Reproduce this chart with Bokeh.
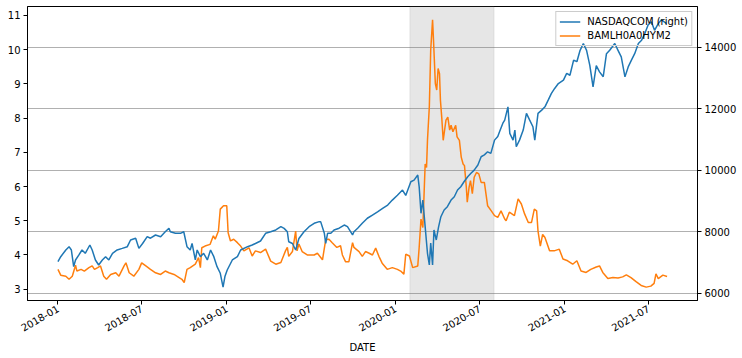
import math
import pandas as pd
from bokeh.plotting import figure
from bokeh.models import (Range1d, LinearAxis, FixedTicker, Grid, BoxAnnotation,
                          Legend, LegendItem, DatetimeTickFormatter)
from bokeh.embed import file_html
from bokeh.resources import INLINE

FONT = "DejaVu Sans"

# ---- data ----
hy_dates = [
    "2018-01-01", "2018-01-07", "2018-01-18", "2018-01-25", "2018-02-01", "2018-02-08", "2018-02-11",
    "2018-02-20", "2018-02-27", "2018-03-09", "2018-03-16", "2018-03-21", "2018-03-28", "2018-04-03",
    "2018-04-10", "2018-04-16", "2018-04-25", "2018-05-06", "2018-05-13", "2018-05-24", "2018-05-28",
    "2018-06-04", "2018-06-14", "2018-06-25", "2018-07-01", "2018-07-10", "2018-07-20", "2018-07-31",
    "2018-08-11", "2018-08-21", "2018-08-29", "2018-09-09", "2018-09-20", "2018-09-26", "2018-10-01",
    "2018-10-07", "2018-10-14", "2018-10-25", "2018-11-01", "2018-11-05", "2018-11-08", "2018-11-15",
    "2018-11-26", "2018-12-03", "2018-12-07", "2018-12-14", "2018-12-18", "2018-12-25", "2019-01-01",
    "2019-01-04", "2019-01-09", "2019-01-16", "2019-01-24", "2019-01-31", "2019-02-07", "2019-02-18",
    "2019-02-25", "2019-03-04", "2019-03-15", "2019-03-26", "2019-04-06", "2019-04-17", "2019-04-28",
    "2019-05-08", "2019-05-12", "2019-05-15", "2019-05-23", "2019-05-30", "2019-06-02", "2019-06-06",
    "2019-06-13", "2019-06-24", "2019-07-09", "2019-07-16", "2019-07-27", "2019-08-03", "2019-08-10",
    "2019-08-17", "2019-08-27", "2019-09-04", "2019-09-08", "2019-09-15", "2019-09-22", "2019-09-30",
    "2019-10-03", "2019-10-14", "2019-10-21", "2019-10-28", "2019-11-05", "2019-11-12", "2019-11-19",
    "2019-11-26", "2019-12-03", "2019-12-14", "2019-12-25", "2020-01-05", "2020-01-12", "2020-01-19",
    "2020-01-23", "2020-01-31", "2020-02-07", "2020-02-18", "2020-02-21", "2020-02-25", "2020-02-29",
    "2020-03-05", "2020-03-08", "2020-03-10", "2020-03-14", "2020-03-17", "2020-03-21", "2020-03-23",
    "2020-03-27", "2020-03-30", "2020-04-02", "2020-04-05", "2020-04-07", "2020-04-10", "2020-04-13",
    "2020-04-16", "2020-04-19", "2020-04-23", "2020-04-27", "2020-04-30", "2020-05-04", "2020-05-10",
    "2020-05-13", "2020-05-18", "2020-05-22", "2020-05-26", "2020-05-29", "2020-06-02", "2020-06-04",
    "2020-06-08", "2020-06-11", "2020-06-15", "2020-06-19", "2020-06-24", "2020-06-29", "2020-07-04",
    "2020-07-11", "2020-07-18", "2020-07-26", "2020-08-02", "2020-08-09", "2020-08-16", "2020-08-24",
    "2020-08-27", "2020-09-03", "2020-09-14", "2020-09-22", "2020-09-29", "2020-10-06", "2020-10-14",
    "2020-10-21", "2020-10-27", "2020-11-01", "2020-11-04", "2020-11-09", "2020-11-14", "2020-11-19",
    "2020-11-29", "2020-12-09", "2020-12-20", "2020-12-28", "2021-01-07", "2021-01-18", "2021-01-27",
    "2021-02-05", "2021-02-16", "2021-02-26", "2021-03-10", "2021-03-17", "2021-03-24", "2021-04-04",
    "2021-04-15", "2021-04-26", "2021-05-06", "2021-05-14", "2021-05-24", "2021-06-04", "2021-06-15",
    "2021-06-26", "2021-07-06", "2021-07-13", "2021-07-17", "2021-07-22", "2021-08-01", "2021-08-10",
]
hy_values = [
    3.58, 3.41, 3.38, 3.29, 3.38, 3.70, 3.53,
    3.58, 3.53, 3.63, 3.68, 3.58, 3.63, 3.68,
    3.38, 3.29, 3.43, 3.48, 3.38, 3.68, 3.77,
    3.48, 3.38, 3.58, 3.77, 3.68, 3.58, 3.48,
    3.43, 3.53, 3.48, 3.43, 3.34, 3.29, 3.19,
    3.58, 3.63, 3.73, 3.92, 3.63, 4.21, 4.26,
    4.31, 4.56, 4.46, 4.70, 5.34, 5.44, 5.44,
    4.65, 4.41, 4.46, 4.36, 4.26, 4.12, 4.21,
    3.97, 4.12, 4.07, 4.17, 3.82, 3.73, 3.78,
    4.12, 4.22, 3.96, 4.10, 4.70, 4.12, 4.32,
    4.10, 4.00, 4.00, 4.05, 3.86, 4.45, 4.46,
    4.36, 4.22, 4.27, 4.00, 3.80, 3.80, 4.36,
    4.22, 4.10, 3.96, 4.10, 4.05, 4.00, 4.20,
    3.96, 3.76, 3.58, 3.63, 3.58, 3.53, 3.44,
    4.02, 3.97, 3.63, 3.68, 4.21, 5.05, 4.80,
    6.66, 6.56, 7.35, 8.33, 9.99, 10.87, 10.29,
    9.01, 8.82, 9.45, 9.30, 8.52, 7.99, 7.35,
    7.65, 7.94, 8.03, 7.65, 7.79, 7.60, 7.79,
    7.45, 7.35, 6.86, 6.66, 6.61, 5.98, 5.54,
    5.98, 6.17, 5.79, 6.27, 6.41, 6.37, 6.12,
    6.12, 5.44, 5.29, 5.15, 5.10, 5.29, 5.05,
    5.00, 5.25, 5.15, 5.64, 5.49, 5.20, 4.95,
    4.95, 5.34, 5.29, 4.70, 4.26, 4.60, 4.51,
    4.12, 4.12, 4.17, 3.88, 3.83, 3.73, 3.83,
    3.53, 3.49, 3.58, 3.65, 3.68, 3.49, 3.31,
    3.34, 3.33, 3.36, 3.42, 3.34, 3.22, 3.11,
    3.06, 3.09, 3.17, 3.45, 3.31, 3.41, 3.37,
]

nq_dates = [
    "2018-01-01", "2018-01-07", "2018-01-18", "2018-01-25", "2018-01-30", "2018-02-04", "2018-02-08",
    "2018-02-15", "2018-02-22", "2018-03-01", "2018-03-11", "2018-03-16", "2018-03-23", "2018-03-30",
    "2018-04-07", "2018-04-14", "2018-04-21", "2018-04-29", "2018-05-09", "2018-05-20", "2018-05-31",
    "2018-06-07", "2018-06-18", "2018-06-25", "2018-07-03", "2018-07-13", "2018-07-20", "2018-07-31",
    "2018-08-11", "2018-08-21", "2018-08-29", "2018-09-01", "2018-09-12", "2018-09-23", "2018-09-30",
    "2018-10-07", "2018-10-14", "2018-10-18", "2018-10-25", "2018-10-29", "2018-11-05", "2018-11-12",
    "2018-11-20", "2018-11-27", "2018-12-04", "2018-12-11", "2018-12-18", "2018-12-24", "2018-12-28",
    "2019-01-02", "2019-01-13", "2019-01-24", "2019-01-31", "2019-02-15", "2019-02-25", "2019-03-04",
    "2019-03-15", "2019-03-26", "2019-04-06", "2019-04-17", "2019-04-28", "2019-05-05", "2019-05-12",
    "2019-05-15", "2019-05-23", "2019-05-30", "2019-06-06", "2019-06-17", "2019-06-28", "2019-07-09",
    "2019-07-20", "2019-07-23", "2019-07-31", "2019-08-03", "2019-08-07", "2019-08-14", "2019-08-21",
    "2019-09-01", "2019-09-12", "2019-09-19", "2019-09-30", "2019-10-03", "2019-10-11", "2019-10-21",
    "2019-11-01", "2019-11-12", "2019-11-23", "2019-12-04", "2019-12-15", "2019-12-25", "2020-01-05",
    "2020-01-16", "2020-01-23", "2020-02-03", "2020-02-10", "2020-02-18", "2020-02-21", "2020-02-25",
    "2020-02-29", "2020-03-05", "2020-03-10", "2020-03-14", "2020-03-17", "2020-03-21", "2020-03-24",
    "2020-03-29", "2020-04-03", "2020-04-08", "2020-04-15", "2020-04-22", "2020-04-30", "2020-05-07",
    "2020-05-14", "2020-05-21", "2020-05-28", "2020-06-05", "2020-06-12", "2020-06-19", "2020-06-27",
    "2020-07-04", "2020-07-11", "2020-07-18", "2020-07-25", "2020-08-02", "2020-08-09", "2020-08-13",
    "2020-08-20", "2020-08-24", "2020-08-31", "2020-09-04", "2020-09-11", "2020-09-15", "2020-09-18",
    "2020-09-25", "2020-10-03", "2020-10-10", "2020-10-17", "2020-10-24", "2020-10-28", "2020-11-04",
    "2020-11-12", "2020-11-19", "2020-11-26", "2020-12-03", "2020-12-10", "2020-12-18", "2020-12-29",
    "2021-01-05", "2021-01-12", "2021-01-20", "2021-01-27", "2021-02-03", "2021-02-10", "2021-02-17",
    "2021-02-24", "2021-03-03", "2021-03-10", "2021-03-17", "2021-03-25", "2021-04-01", "2021-04-08",
    "2021-04-19", "2021-04-26", "2021-05-03", "2021-05-11", "2021-05-18", "2021-05-25", "2021-06-01",
    "2021-06-09", "2021-06-16", "2021-06-23", "2021-06-30", "2021-07-07", "2021-07-14", "2021-07-22",
    "2021-07-29", "2021-08-09",
]
nq_values = [
    7029, 7190, 7408, 7515, 7408, 6866, 7083,
    7240, 7408, 7300, 7570, 7408, 7083, 6920,
    7083, 7190, 7083, 7300, 7408, 7460, 7515,
    7733, 7790, 7460, 7620, 7840, 7790, 7895,
    7840, 8000, 8113, 8000, 7950, 7950, 8000,
    7515, 7408, 7620, 7083, 7408, 7190, 7300,
    7083, 7408, 7190, 6866, 6650, 6200, 6542,
    6758, 7083, 7190, 7408, 7515, 7570, 7620,
    7700, 7950, 8000, 8060, 8166, 8110, 8000,
    7676, 7620, 7408, 7780, 8000, 8166, 8275,
    8330, 8330, 7950, 7625, 7950, 7950, 8060,
    8115, 8220, 8166, 7900, 8000, 8115, 8275,
    8440, 8545, 8650, 8760, 8870, 9030, 9190,
    9357, 9180, 9627, 9680, 9844, 9470, 8600,
    9032, 8160, 7300, 6922, 7630, 6922, 8058,
    7733, 8160, 8490, 8707, 8815, 9030, 9140,
    9357, 9465, 9627, 9790, 9900, 10005, 10170,
    10440, 10500, 10600, 10550, 10980, 11100, 11260,
    11530, 11630, 12062, 11198, 10980, 11306, 10765,
    10980, 11306, 11850, 11630, 11415, 10980, 11850,
    11955, 12062, 12280, 12500, 12660, 12820, 12930,
    13150, 13090, 13580, 13530, 13900, 14120, 13900,
    13410, 12710, 13400, 13200, 13040, 13790, 13900,
    14120, 13900, 13685, 13036, 13360, 13580, 13790,
    14120, 14230, 14445, 14720, 14830, 14550, 14770,
    14890, 14770,
]

left_ticks = [3, 4, 5, 6, 7, 8, 9, 10, 11]
right_ticks = [6000, 8000, 10000, 12000, 14000]
x_tick_labels = ["2018-01", "2018-07", "2019-01", "2019-07",
                 "2020-01", "2020-07", "2021-01", "2021-07"]
recession = ["2020-02-01", "2020-08-01"]

# ---- build ----
hy_x = pd.to_datetime(hy_dates)
nq_x = pd.to_datetime(nq_dates)


def padded(lo, hi, frac=0.05):
    d = (hi - lo) * frac
    return lo - d, hi + d


x_lo, x_hi = padded(min(hy_x.min(), nq_x.min()), max(hy_x.max(), nq_x.max()))
yl_lo, yl_hi = padded(min(hy_values), max(hy_values))
yr_lo, yr_hi = padded(min(nq_values), max(nq_values))


def ms(ts):
    return pd.Timestamp(ts).timestamp() * 1000.0


p = figure(width=742, height=358, x_axis_type="datetime",
           x_range=Range1d(ms(x_lo), ms(x_hi)), y_range=Range1d(yl_lo, yl_hi),
           output_backend="svg", toolbar_location=None,
           min_border_left=27, min_border_right=45, min_border_top=6, min_border_bottom=58)
p.extra_y_ranges = {"right": Range1d(yr_lo, yr_hi)}
p.background_fill_color = "white"
p.border_fill_color = "white"
p.outline_line_color = "black"
p.outline_line_alpha = 1.0
p.outline_line_width = 1

right_axis = LinearAxis(y_range_name="right", ticker=FixedTicker(ticks=right_ticks))
p.add_layout(right_axis, "right")

p.yaxis[0].ticker = FixedTicker(ticks=left_ticks)
p.xaxis[0].ticker = FixedTicker(ticks=[ms(s + "-01") for s in x_tick_labels])
p.xaxis[0].formatter = DatetimeTickFormatter(
    milliseconds="%Y-%m", seconds="%Y-%m", minsec="%Y-%m", minutes="%Y-%m",
    hourmin="%Y-%m", hours="%Y-%m", days="%Y-%m", months="%Y-%m", years="%Y-%m")
p.xaxis[0].major_label_orientation = math.pi / 6
p.xaxis[0].axis_label = "DATE"
p.xaxis[0].axis_label_text_font = FONT
p.xaxis[0].axis_label_text_font_size = "10px"
p.xaxis[0].axis_label_text_font_style = "normal"
p.xaxis[0].axis_label_text_color = "black"
p.xaxis[0].axis_label_standoff = 4

for ax in [p.xaxis[0], p.yaxis[0], right_axis]:
    ax.major_tick_out = 4
    ax.major_tick_in = 0
    ax.minor_tick_out = 0
    ax.minor_tick_in = 0
    ax.major_tick_line_color = "black"
    ax.axis_line_color = "black"
    ax.major_label_text_font = FONT
    ax.major_label_text_font_size = "10px"
    ax.major_label_text_color = "black"
    ax.major_label_standoff = 3

p.xgrid.visible = False
p.ygrid.visible = False
grid = Grid(dimension=1, ticker=right_axis.ticker, y_range_name="right",
            grid_line_color="#b0b0b0", grid_line_width=1)
p.add_layout(grid)

shade = BoxAnnotation(left=ms(recession[0]), right=ms(recession[1]),
                      fill_color="grey", fill_alpha=0.2,
                      line_color="grey", line_alpha=0.15, level="underlay")
p.add_layout(shade)

hy_r = p.line(hy_x, hy_values, line_color="#ff7f0e", line_width=1.5)
nq_r = p.line(nq_x, nq_values, line_color="#1f77b4", line_width=1.5,
              y_range_name="right")

# transparent legend box so the right-axis line shows through, as in the reference
legend = Legend(items=[LegendItem(label="NASDAQCOM (right)", renderers=[nq_r]),
                       LegendItem(label="BAMLH0A0HYM2", renderers=[hy_r])],
                location="top_right", margin=5, padding=3, spacing=1,
                glyph_width=21, glyph_height=13, label_height=13, label_standoff=7,
                label_text_font=FONT, label_text_font_size="10px",
                label_text_color="black",
                border_line_color="#cccccc", border_line_width=1, border_line_alpha=1.0,
                background_fill_color="white", background_fill_alpha=0.0)
p.add_layout(legend)

open("out.html", "w").write(file_html(p, INLINE))
